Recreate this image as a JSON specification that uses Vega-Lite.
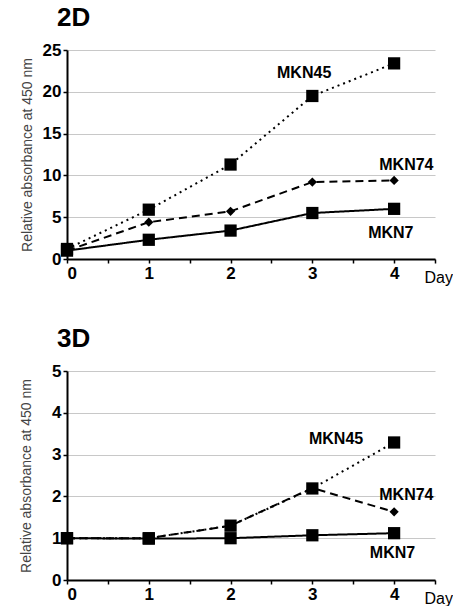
{
  "$schema": "https://vega.github.io/schema/vega-lite/v6.json",
  "background": "white",
  "padding": {"left": 19, "top": 5, "right": 0, "bottom": 0},
  "datasets": {
    "pts": [
      {"panel": "2D", "series": "MKN45", "day": 0, "value": 1.2},
      {"panel": "2D", "series": "MKN45", "day": 1, "value": 5.9},
      {"panel": "2D", "series": "MKN45", "day": 2, "value": 11.3},
      {"panel": "2D", "series": "MKN45", "day": 3, "value": 19.5},
      {"panel": "2D", "series": "MKN45", "day": 4, "value": 23.4},
      {"panel": "2D", "series": "MKN74", "day": 0, "value": 1.0},
      {"panel": "2D", "series": "MKN74", "day": 1, "value": 4.4},
      {"panel": "2D", "series": "MKN74", "day": 2, "value": 5.7},
      {"panel": "2D", "series": "MKN74", "day": 3, "value": 9.2},
      {"panel": "2D", "series": "MKN74", "day": 4, "value": 9.4},
      {"panel": "2D", "series": "MKN7", "day": 0, "value": 1.0},
      {"panel": "2D", "series": "MKN7", "day": 1, "value": 2.3},
      {"panel": "2D", "series": "MKN7", "day": 2, "value": 3.4},
      {"panel": "2D", "series": "MKN7", "day": 3, "value": 5.5},
      {"panel": "2D", "series": "MKN7", "day": 4, "value": 6.0},
      {"panel": "3D", "series": "MKN45", "day": 0, "value": 1.0},
      {"panel": "3D", "series": "MKN45", "day": 1, "value": 1.0},
      {"panel": "3D", "series": "MKN45", "day": 2, "value": 1.3},
      {"panel": "3D", "series": "MKN45", "day": 3, "value": 2.19},
      {"panel": "3D", "series": "MKN45", "day": 4, "value": 3.29},
      {"panel": "3D", "series": "MKN74", "day": 0, "value": 1.0},
      {"panel": "3D", "series": "MKN74", "day": 1, "value": 1.0},
      {"panel": "3D", "series": "MKN74", "day": 2, "value": 1.3},
      {"panel": "3D", "series": "MKN74", "day": 3, "value": 2.2},
      {"panel": "3D", "series": "MKN74", "day": 4, "value": 1.63},
      {"panel": "3D", "series": "MKN7", "day": 0, "value": 1.0},
      {"panel": "3D", "series": "MKN7", "day": 1, "value": 0.99},
      {"panel": "3D", "series": "MKN7", "day": 2, "value": 1.0},
      {"panel": "3D", "series": "MKN7", "day": 3, "value": 1.07},
      {"panel": "3D", "series": "MKN7", "day": 4, "value": 1.12}
    ],
    "labels": [
      {"panel": "2D", "series": "MKN45", "day": 2.9, "value": 22.2},
      {"panel": "2D", "series": "MKN74", "day": 4.15, "value": 11.2},
      {"panel": "2D", "series": "MKN7", "day": 3.96, "value": 3.1},
      {"panel": "3D", "series": "MKN45", "day": 3.29, "value": 3.37},
      {"panel": "3D", "series": "MKN74", "day": 4.15, "value": 2.03},
      {"panel": "3D", "series": "MKN7", "day": 3.98, "value": 0.65}
    ]
  },
  "config": {
    "view": {"stroke": null},
    "font": "Liberation Sans",
    "axis": {
      "labelFont": "Liberation Sans",
      "labelFontWeight": "bold",
      "labelFontSize": 17,
      "labelColor": "black",
      "domainColor": "black",
      "domainWidth": 2,
      "tickColor": "black",
      "tickWidth": 1.5,
      "tickSize": 4,
      "gridColor": "#c8c8c8",
      "gridWidth": 1.2
    },
    "title": {"font": "Liberation Sans", "fontSize": 26, "fontWeight": "bold", "anchor": "start", "color": "black", "frame": "group"}
  },
  "vconcat": [
    {
      "title": {"text": "2D", "dx": -10, "offset": 10},
      "width": 368,
      "height": 209,
      "layer": [
        {
          "data": {"name": "pts"},
          "transform": [{"filter": "datum.panel == '2D'"}],
          "mark": {"type": "line", "color": "black", "strokeWidth": 2},
          "encoding": {
            "x": {"field": "day", "type": "quantitative", "scale": {"domain": [0, 4.5], "nice": false},
              "axis": {"values": [0, 0.5, 1, 1.5, 2, 2.5, 3, 3.5, 4, 4.5], "labelExpr": "datum.value % 1 == 0 ? format(datum.value, 'd') : ''", "grid": false, "title": "Day", "titleFont": "Liberation Sans", "titleFontSize": 16, "titleFontWeight": "normal", "titleX": 357, "titleY": 18, "titleAlign": "left", "titleBaseline": "middle", "labelPadding": 2}},
            "y": {"field": "value", "type": "quantitative", "scale": {"domain": [0, 25], "nice": false},
              "axis": {"values": [0, 5, 10, 15, 20, 25], "title": "Relative absorbance at 450 nm", "titleFont": "Liberation Sans", "titleFontSize": 14, "titleFontWeight": "normal", "titleColor": "#444", "titlePadding": 8}},
            "strokeDash": {"field": "series", "type": "nominal", "scale": {"domain": ["MKN45", "MKN74", "MKN7"], "range": [[2, 4], [8, 5], [1, 0]]}, "legend": null},
            "detail": {"field": "series"}
          }
        },
        {
          "data": {"name": "pts"},
          "transform": [{"filter": "datum.panel == '2D'"}],
          "mark": {"type": "point", "filled": true, "color": "black", "opacity": 1},
          "encoding": {
            "x": {"field": "day", "type": "quantitative"},
            "y": {"field": "value", "type": "quantitative"},
            "shape": {"field": "series", "type": "nominal", "scale": {"domain": ["MKN45", "MKN74", "MKN7"], "range": ["square", "diamond", "square"]}, "legend": null},
            "size": {"condition": {"test": "datum.series == 'MKN74'", "value": 85}, "value": 150}
          }
        },
        {
          "data": {"name": "labels"},
          "transform": [{"filter": "datum.panel == '2D'"}],
          "mark": {"type": "text", "font": "Liberation Sans", "fontWeight": "bold", "fontSize": 16, "color": "black"},
          "encoding": {
            "x": {"field": "day", "type": "quantitative"},
            "y": {"field": "value", "type": "quantitative"},
            "text": {"field": "series"}
          }
        }
      ]
    },
    {
      "title": {"text": "3D", "dx": -10, "offset": 10},
      "width": 368,
      "height": 209,
      "layer": [
        {
          "data": {"name": "pts"},
          "transform": [{"filter": "datum.panel == '3D'"}],
          "mark": {"type": "line", "color": "black", "strokeWidth": 2},
          "encoding": {
            "x": {"field": "day", "type": "quantitative", "scale": {"domain": [0, 4.5], "nice": false},
              "axis": {"values": [0, 0.5, 1, 1.5, 2, 2.5, 3, 3.5, 4, 4.5], "labelExpr": "datum.value % 1 == 0 ? format(datum.value, 'd') : ''", "grid": false, "title": "Day", "titleFont": "Liberation Sans", "titleFontSize": 16, "titleFontWeight": "normal", "titleX": 357, "titleY": 18, "titleAlign": "left", "titleBaseline": "middle", "labelPadding": 2}},
            "y": {"field": "value", "type": "quantitative", "scale": {"domain": [0, 5], "nice": false},
              "axis": {"values": [0, 1, 2, 3, 4, 5], "title": "Relative absorbance at 450 nm", "titleFont": "Liberation Sans", "titleFontSize": 14, "titleFontWeight": "normal", "titleColor": "#444", "titlePadding": 18}},
            "strokeDash": {"field": "series", "type": "nominal", "scale": {"domain": ["MKN45", "MKN74", "MKN7"], "range": [[2, 4], [8, 5], [1, 0]]}, "legend": null},
            "detail": {"field": "series"}
          }
        },
        {
          "data": {"name": "pts"},
          "transform": [{"filter": "datum.panel == '3D'"}],
          "mark": {"type": "point", "filled": true, "color": "black", "opacity": 1},
          "encoding": {
            "x": {"field": "day", "type": "quantitative"},
            "y": {"field": "value", "type": "quantitative"},
            "shape": {"field": "series", "type": "nominal", "scale": {"domain": ["MKN45", "MKN74", "MKN7"], "range": ["square", "diamond", "square"]}, "legend": null},
            "size": {"condition": {"test": "datum.series == 'MKN74'", "value": 85}, "value": 150}
          }
        },
        {
          "data": {"name": "labels"},
          "transform": [{"filter": "datum.panel == '3D'"}],
          "mark": {"type": "text", "font": "Liberation Sans", "fontWeight": "bold", "fontSize": 16, "color": "black"},
          "encoding": {
            "x": {"field": "day", "type": "quantitative"},
            "y": {"field": "value", "type": "quantitative"},
            "text": {"field": "series"}
          }
        }
      ]
    }
  ],
  "spacing": 41
}
